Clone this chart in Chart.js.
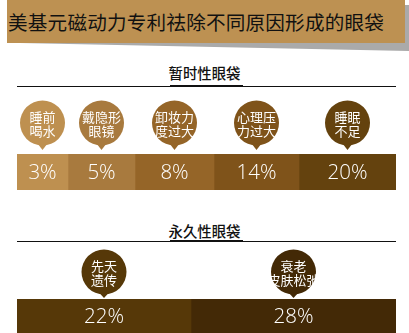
<!DOCTYPE html>
<html>
<head>
<meta charset="utf-8">
<script src="https://cdn.jsdelivr.net/npm/chart.js@4/dist/chart.umd.min.js"></script>
<style>
  html, body { margin: 0; padding: 0; background: #fff; }
  body { width: 409px; height: 333px; position: relative; overflow: hidden; font-family: "Noto Sans CJK SC", "Noto Sans", sans-serif; }
  #shadow { position: absolute; left: 0; top: 0; width: 409px; height: 60px; }
  #titlebar { position: absolute; left: 7px; top: 0; width: 398px; height: 43px; background: #bd9152; }
  #title { position: absolute; left: 8px; top: 0; height: 43px; line-height: 43px; font-size: 19.6px; color: #111; white-space: nowrap; letter-spacing: 0.2px; }
  .head { position: absolute; left: 0; width: 409px; text-align: center; font-size: 14.4px; font-weight: 500; color: #111; }
  .line { position: absolute; left: 17px; width: 379px; height: 1px; background: #111; }
  .thick { position: absolute; height: 2px; background: #111; }
  canvas { position: absolute; left: 0; }
</style>
</head>
<body>
<svg id="shadow" width="409" height="60"><polygon points="20,43 405,43 405,5 409,5 409,51" fill="#aaaaaa"/></svg>
<div id="titlebar"></div>
<div id="title"></div>

<div class="head" id="h1" style="top:62px;"></div>
<div class="thick" style="left:170px; width:73px; top:85px;"></div>
<div class="line" style="top:86px;"></div>
<canvas id="c1" width="409" height="95" style="top:95px;"></canvas>

<div class="head" id="h2" style="top:220px;"></div>
<div class="thick" style="left:170px; width:73px; top:240px;"></div>
<div class="line" style="top:241px;"></div>
<canvas id="c2" width="409" height="92" style="top:241px;"></canvas>

<script>
// ---- data ----
const titleText = "美基元磁动力专利祛除不同原因形成的眼袋";
const tempHeading = "暂时性眼袋";
const tempCauses = [["睡前","喝水"],["戴隐形","眼镜"],["卸妆力","度过大"],["心理压","力过大"],["睡眠","不足"]];
const tempPercent = [3, 5, 8, 14, 20];
const tempSpan = [51, 67, 79, 85, 97];      // relative segment lengths as drawn in the picture
const permHeading = "永久性眼袋";
const permCauses = [["先天","遗传"],["衰老","皮肤松弛"]];
const permPercent = [22, 28];
const permSpan = [174, 205];                // relative segment lengths as drawn in the picture

// ---- styles ----
const tempColors = ["#be9050", "#a87a3e", "#956528", "#7f531a", "#64420e"];
const permColors = ["#563808", "#432906"];

document.getElementById("title").textContent = titleText;
document.getElementById("h1").textContent = tempHeading;
document.getElementById("h2").textContent = permHeading;

const pinPlugin = {
  id: "pins",
  afterDatasetsDraw(chart, args, opts) {
    const ctx = chart.ctx;
    const top = chart.chartArea.top;
    chart.data.datasets.forEach((ds, i) => {
      const el = chart.getDatasetMeta(i).data[0];
      const cx = (el.x + el.base) / 2;
      // percent label
      ctx.save();
      ctx.fillStyle = "#fff";
      ctx.font = "300 20.5px 'Open Sans', 'Noto Sans', sans-serif";
      ctx.textAlign = "center";
      ctx.textBaseline = "middle";
      ctx.fillText(opts.percents[i] + "%", cx, el.y + 1);
      // pin
      const r = 22.5;
      const cy = top - opts.offset;
      const tip = top - opts.tipGap;
      ctx.fillStyle = ds.backgroundColor;
      ctx.beginPath();
      ctx.arc(cx, cy, r, 0, Math.PI * 2);
      ctx.fill();
      ctx.beginPath();
      ctx.moveTo(cx - 5, cy + r - 2);
      ctx.lineTo(cx + 5, cy + r - 2);
      ctx.lineTo(cx, tip);
      ctx.closePath();
      ctx.fill();
      // pin text
      ctx.fillStyle = "#fff";
      ctx.font = "13px 'Noto Sans CJK SC', sans-serif";
      const lines = opts.causes[i];
      ctx.fillText(lines[0], cx, cy - 6);
      ctx.fillText(lines[1], cx, cy + 8);
      ctx.restore();
    });
  }
};

function makeChart(id, spans, colors, percents, causes, padTop, offset, tipGap) {
  const total = spans.reduce((a, b) => a + b, 0);
  return new Chart(document.getElementById(id), {
    type: "bar",
    data: {
      labels: [""],
      datasets: spans.map((v, i) => ({
        data: [v],
        backgroundColor: colors[i],
        borderWidth: 0,
        barPercentage: 1,
        categoryPercentage: 1
      }))
    },
    options: {
      indexAxis: "y",
      responsive: false,
      animation: false,
      devicePixelRatio: 1,
      layout: { padding: { top: padTop, bottom: 0, left: 17, right: 13 } },
      scales: {
        x: { stacked: true, display: false, min: 0, max: total },
        y: { stacked: true, display: false }
      },
      plugins: {
        legend: { display: false },
        tooltip: { enabled: false },
        pins: { percents, causes, offset, tipGap }
      }
    },
    plugins: [pinPlugin]
  });
}

makeChart("c1", tempSpan, tempColors, tempPercent, tempCauses, 59, 31, 4);
makeChart("c2", permSpan, permColors, permPercent, permCauses, 58, 27, 1);
</script>
</body>
</html>
